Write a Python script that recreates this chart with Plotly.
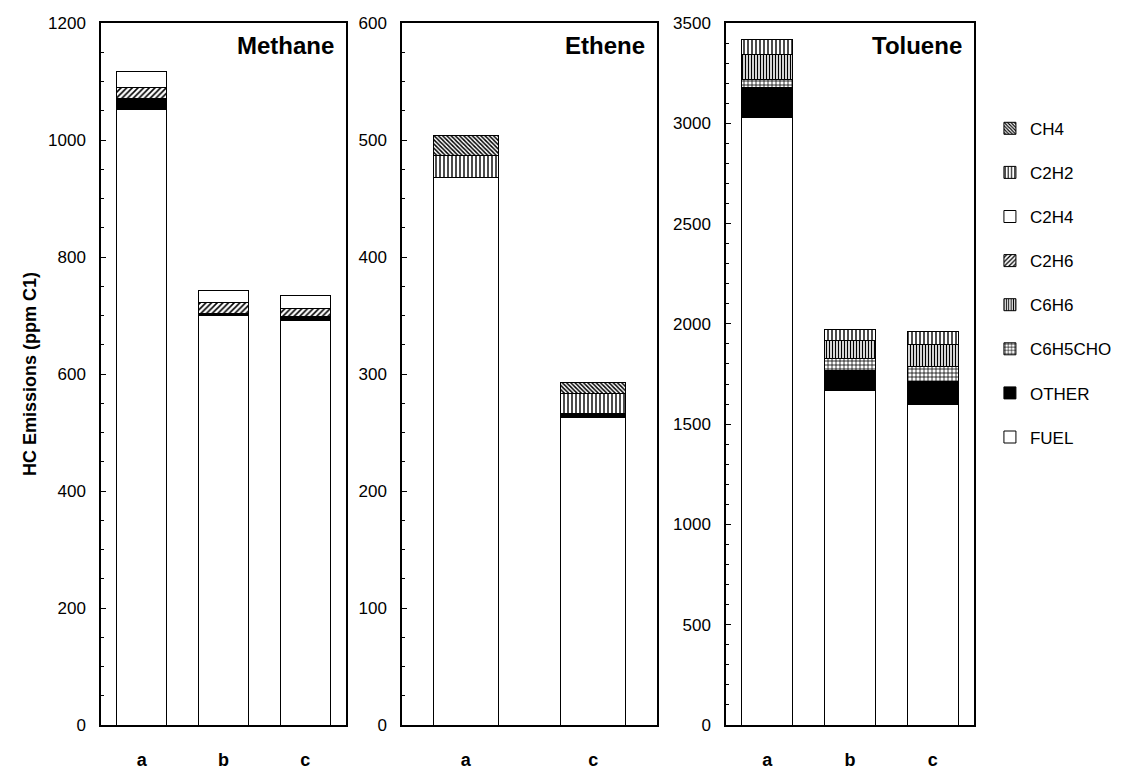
import plotly.graph_objects as go

# ---------------- data ----------------
series = ["FUEL", "OTHER", "C6H5CHO", "C6H6", "C2H6", "C2H4", "C2H2", "CH4"]

methane_cats = ["a", "b", "c"]
methane_vals = {
    "FUEL":    [1053, 700, 691],
    "OTHER":   [18, 3, 7],
    "C6H5CHO": [0, 0, 0],
    "C6H6":    [0, 0, 0],
    "C2H6":    [19, 20, 14],
    "C2H4":    [27, 20, 22],
    "C2H2":    [0, 0, 0],
    "CH4":     [0, 0, 0],
}

ethene_cats = ["a", "c"]
ethene_vals = {
    "FUEL":    [468, 263],
    "OTHER":   [0, 3],
    "C6H5CHO": [0, 0],
    "C6H6":    [0, 0],
    "C2H6":    [0, 0],
    "C2H4":    [0, 0],
    "C2H2":    [19, 17],
    "CH4":     [17, 10],
}

toluene_cats = ["a", "b", "c"]
toluene_vals = {
    "FUEL":    [3028, 1670, 1596],
    "OTHER":   [148, 99, 115],
    "C6H5CHO": [41, 58, 78],
    "C6H6":    [127, 90, 109],
    "C2H6":    [0, 0, 0],
    "C2H4":    [0, 0, 0],
    "C2H2":    [74, 53, 64],
    "CH4":     [0, 0, 0],
}

panel_titles = ["Methane", "Ethene", "Toluene"]
y_title = "HC Emissions (ppm C1)"

# ---------------- styles ----------------
styles = {
    "FUEL":    dict(color="white", pattern=None),
    "OTHER":   dict(color="black", pattern=None),
    "C6H5CHO": dict(color="white", pattern=dict(shape="+", size=4, solidity=0.35)),
    "C6H6":    dict(color="white", pattern=dict(shape="|", size=3, solidity=0.45)),
    "C2H6":    dict(color="white", pattern=dict(shape="/", size=4, solidity=0.4)),
    "C2H4":    dict(color="white", pattern=None),
    "C2H2":    dict(color="white", pattern=dict(shape="|", size=4, solidity=0.35)),
    "CH4":     dict(color="white", pattern=dict(shape="\\", size=3, solidity=0.5)),
}

FONT = "Liberation Sans, Arial, sans-serif"
W, H = 1123, 770
TOP, BOT = 23, 38

panels = [
    ("x", "y", methane_cats, methane_vals, 0.61, (101, 346), 1200, 200, 50),
    ("x2", "y2", ethene_cats, ethene_vals, 0.51, (402, 657), 600, 100, 25),
    ("x3", "y3", toluene_cats, toluene_vals, 0.62, (726, 974), 3500, 500, 100),
]

fig = go.Figure()

for k, s in enumerate(series):
    st = styles[s]
    for i, (xa, ya, cats, vals, bw, _, _, _, _) in enumerate(panels):
        marker = dict(color=st["color"], line=dict(color="black", width=1))
        if st["pattern"]:
            marker["pattern"] = dict(fgcolor="black", bgcolor="white",
                                     fillmode="replace", **st["pattern"])
        fig.add_trace(go.Bar(
            x=cats, y=vals[s], name=s, width=bw,
            xaxis=xa, yaxis=ya, marker=marker,
            legendgroup=s, showlegend=(i == 0),
            legendrank=1000 - k,
        ))

layout = dict(
    width=W, height=H, barmode="stack",
    margin=dict(l=0, r=0, t=TOP, b=BOT),
    paper_bgcolor="white", plot_bgcolor="white",
    font=dict(family=FONT, size=17, color="black"),
    legend=dict(x=0.8815, y=0.875, xanchor="left", yanchor="top",
                traceorder="grouped", tracegroupgap=19,
                font=dict(size=17), bgcolor="rgba(0,0,0,0)"),
    annotations=[],
)

for i, (xa, ya, cats, vals, bw, (x0, x1), ymax, dt, minor) in enumerate(panels):
    xk = "xaxis" if i == 0 else f"xaxis{i+1}"
    yk = "yaxis" if i == 0 else f"yaxis{i+1}"
    layout[xk] = dict(
        domain=[x0 / W, x1 / W], anchor=ya,
        range=[-0.5, len(cats) - 0.5],
        showline=True, mirror=True, linecolor="black", linewidth=1.5,
        ticks="", showgrid=False, zeroline=False,
        tickfont=dict(size=18, weight="bold"), ticklabelstandoff=18,
    )
    layout[yk] = dict(
        domain=[0, 1], anchor=xa, range=[0, ymax],
        dtick=dt, tick0=0,
        showline=True, mirror=True, linecolor="black", linewidth=1.5,
        ticks="inside", ticklen=5, tickcolor="black", tickwidth=1,
        minor=dict(dtick=minor, ticks="inside", ticklen=3, tickcolor="black"),
        showgrid=False, zeroline=False, tickfont=dict(size=17),
        ticklabelstandoff=10,
    )
    layout["annotations"].append(dict(
        text=f"<b>{panel_titles[i]}</b>", xref=f"{xa} domain", yref="paper",
        x=0.96, y=0.99, xanchor="right", yanchor="top", showarrow=False,
        font=dict(size=24, family=FONT),
    ))

layout["annotations"].append(dict(
    text=f"<b>{y_title}</b>", xref="paper", yref="paper",
    x=30 / W, y=0.5, xanchor="center", yanchor="middle", textangle=-90,
    showarrow=False, font=dict(size=18, family=FONT),
))

fig.update_layout(**layout)
fig.write_html("out.html")
